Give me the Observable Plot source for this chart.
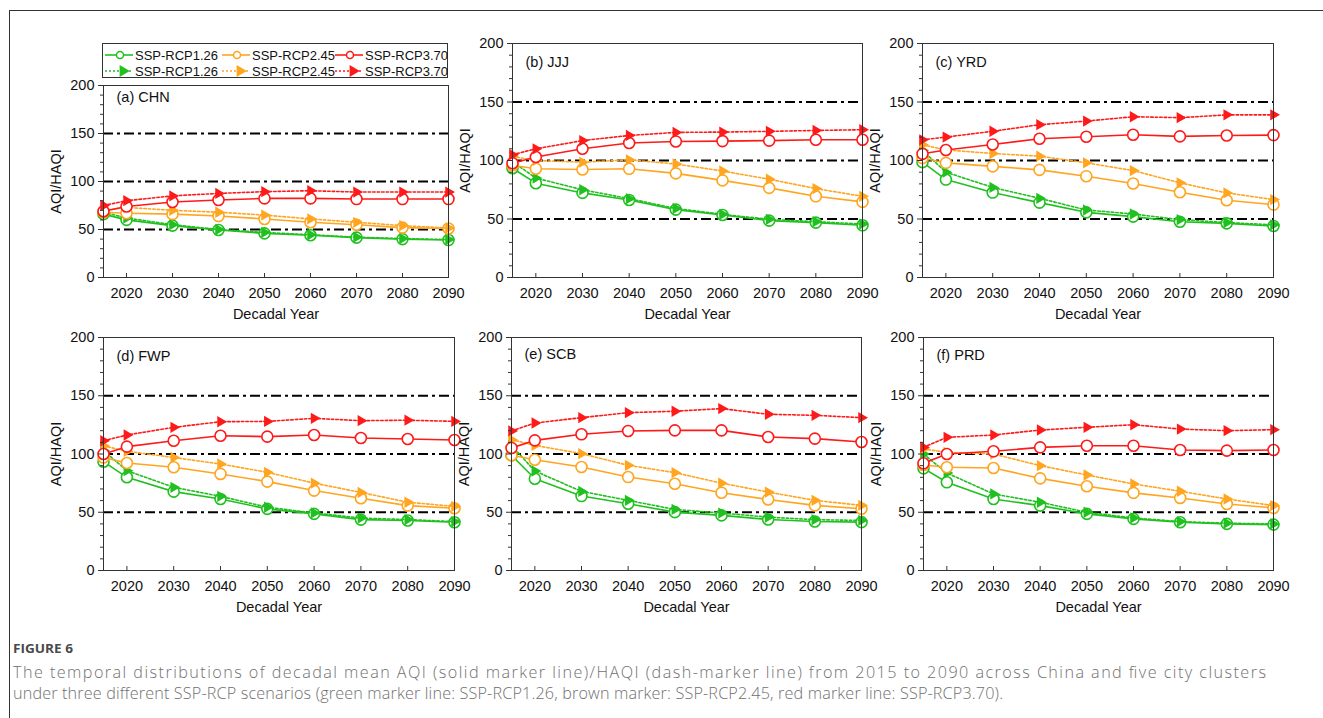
<!DOCTYPE html>
<html><head><meta charset="utf-8">
<script src="https://cdn.jsdelivr.net/npm/d3@7"></script>
<script src="https://cdn.jsdelivr.net/npm/@observablehq/plot@0.6"></script>
<style>
html,body{margin:0;padding:0;background:#fff;}
body{width:1323px;height:718px;overflow:hidden;position:relative;font-family:"Liberation Sans",Arial,sans-serif;}
.pbox{position:absolute;}
.pbox svg{overflow:visible;max-width:none;}
#border{position:absolute;left:9px;top:10px;width:1330px;height:720px;border-left:1px solid #333;border-top:1px solid #333;}
#legend,#caption{position:absolute;left:0;top:0;}
</style></head><body>
<div id="border"></div>
<div id="charts"></div>
<svg id="legend" width="1323" height="100"></svg>
<svg id="caption" width="1323" height="718" style="pointer-events:none"></svg>
<script>
const years = [2015, 2020, 2030, 2040, 2050, 2060, 2070, 2080, 2090];
const xTicks = [2020, 2030, 2040, 2050, 2060, 2070, 2080, 2090];
const yMajor = [0, 50, 100, 150, 200];
const yMinor = [10, 20, 30, 40, 60, 70, 80, 90, 110, 120, 130, 140, 160, 170, 180, 190];
const refLevels = [50, 100, 150];
const scenarios = ["SSP-RCP1.26", "SSP-RCP2.45", "SSP-RCP3.70"];
const scenColors = ["#20c020", "#ffa51f", "#ff1a1a"];
const regionLabels = ["(a) CHN", "(b) JJJ", "(c) YRD", "(d) FWP", "(e) SCB", "(f) PRD"];

// CHN
const CHN_AQI_126 = [66, 60, 54, 49.5, 46, 44, 41.5, 40, 39];
const CHN_HAQI_126 = [68, 62, 55, 50, 47, 44.5, 42, 40.5, 39.5];
const CHN_AQI_245 = [68, 67, 66, 64, 61, 57.5, 55, 52, 51];
const CHN_HAQI_245 = [70, 73, 70, 68, 65, 61, 57.5, 54, 51.5];
const CHN_AQI_370 = [69, 74, 78.6, 80.7, 82.4, 82.4, 81.7, 81.7, 81.7];
const CHN_HAQI_370 = [75, 80, 85, 87.6, 89.4, 90.4, 89, 89, 89];
// JJJ
const JJJ_AQI_126 = [93.4, 80.6, 72.3, 66.3, 58, 53.4, 48.6, 46.9, 44.6];
const JJJ_HAQI_126 = [99, 85, 75, 67.4, 59, 54, 49.7, 47.7, 45.7];
const JJJ_AQI_245 = [96, 93, 92.3, 92.9, 89, 83, 76.6, 69.4, 64.6];
const JJJ_HAQI_245 = [103.4, 100, 98.6, 100.6, 97, 91, 84, 76, 69.4];
const JJJ_AQI_370 = [97.7, 103, 110, 115, 116.3, 116.6, 117, 117.7, 117.7];
const JJJ_HAQI_370 = [105, 110, 117, 121.4, 124, 124.3, 124.9, 125.7, 126.3];
// YRD
const YRD_AQI_126 = [98.6, 83.7, 72.6, 64, 55.7, 52, 47.7, 46.3, 44];
const YRD_HAQI_126 = [108.6, 90, 77, 67.7, 57.7, 54.3, 49.4, 47, 45];
const YRD_AQI_245 = [102, 98, 95, 92, 86.6, 80.3, 72.9, 66, 62.3];
const YRD_HAQI_245 = [113.4, 109, 106, 103.7, 98, 91.4, 80.9, 72.3, 66.6];
const YRD_AQI_370 = [105.7, 109, 113.7, 118.6, 120.3, 122, 120.6, 121.4, 121.7];
const YRD_HAQI_370 = [117.7, 120, 125, 130.6, 133.7, 137.4, 136.6, 139, 139];
// FWP
const FWP_AQI_126 = [93.4, 80, 67.7, 61.4, 52.9, 48.6, 43.7, 42.9, 41.4];
const FWP_HAQI_126 = [102.9, 85.7, 71.4, 63.7, 54.3, 49.4, 45, 43.7, 42];
const FWP_AQI_245 = [97, 92.3, 88.6, 82.9, 76.3, 68.6, 62, 55.7, 53.4];
const FWP_HAQI_245 = [107, 102.3, 97, 91.4, 84.3, 75, 67, 58.6, 55];
const FWP_AQI_370 = [100, 106.3, 111.4, 115.7, 114.9, 116.3, 113.7, 112.9, 112];
const FWP_HAQI_370 = [111.4, 116.3, 122.9, 127.7, 128, 130.6, 128.6, 129, 128];
// SCB
const SCB_AQI_126 = [98.9, 78.8, 63.9, 57.3, 50.1, 47.3, 43.8, 42.1, 41.5];
const SCB_HAQI_126 = [107.4, 85.4, 67.9, 60.2, 52.4, 49.3, 45.8, 43.6, 43];
const SCB_AQI_245 = [98.9, 95.1, 88.8, 80.2, 74.5, 66.8, 61, 55.9, 53];
const SCB_HAQI_245 = [112.3, 107.4, 100.3, 90.3, 84, 75, 67.3, 60.2, 55.9];
const SCB_AQI_370 = [105.2, 111.7, 116.9, 119.8, 120.3, 120.3, 114.6, 113.2, 110.3];
const SCB_HAQI_370 = [119.8, 126.6, 131.2, 135.5, 136.7, 139, 134.1, 133.2, 131.2];
// PRD
const PRD_AQI_126 = [87.7, 75.7, 61.4, 55.7, 48.6, 44.3, 41.4, 40, 39.4];
const PRD_HAQI_126 = [100, 83.7, 65.7, 58.6, 50, 45.1, 42, 40.6, 40];
const PRD_AQI_245 = [90.6, 88.6, 88, 79.1, 72.3, 66.6, 62.3, 57.1, 53.7];
const PRD_HAQI_245 = [104.3, 101.4, 100, 90, 82, 74.3, 68, 61.4, 55.7];
const PRD_AQI_370 = [92, 100, 102.3, 105.7, 107.1, 107.1, 103.4, 102.9, 103.4];
const PRD_HAQI_370 = [105.7, 114.3, 116.3, 120.6, 122.9, 125.1, 121.4, 120, 120.9];

const regionSeries = [
  [[CHN_AQI_126, CHN_HAQI_126], [CHN_AQI_245, CHN_HAQI_245], [CHN_AQI_370, CHN_HAQI_370]],
  [[JJJ_AQI_126, JJJ_HAQI_126], [JJJ_AQI_245, JJJ_HAQI_245], [JJJ_AQI_370, JJJ_HAQI_370]],
  [[YRD_AQI_126, YRD_HAQI_126], [YRD_AQI_245, YRD_HAQI_245], [YRD_AQI_370, YRD_HAQI_370]],
  [[FWP_AQI_126, FWP_HAQI_126], [FWP_AQI_245, FWP_HAQI_245], [FWP_AQI_370, FWP_HAQI_370]],
  [[SCB_AQI_126, SCB_HAQI_126], [SCB_AQI_245, SCB_HAQI_245], [SCB_AQI_370, SCB_HAQI_370]],
  [[PRD_AQI_126, PRD_HAQI_126], [PRD_AQI_245, PRD_HAQI_245], [PRD_AQI_370, PRD_HAQI_370]]
];

// layout: frame edges in page pixels
const layout = [
  {L: 103, R: 448, T: 85, B: 277, ldy: 12},
  {L: 512, R: 862, T: 43, B: 277, ldy: 19},
  {L: 922, R: 1273, T: 43, B: 277, ldy: 19},
  {L: 103, R: 454, T: 337, B: 570, ldy: 19},
  {L: 511, R: 861, T: 337, B: 570, ldy: 17},
  {L: 923, R: 1273, T: 337, B: 570, ldy: 18}
];

const FONT = "'Liberation Sans', Arial, Helvetica, sans-serif";
const charts = document.getElementById("charts");

regionLabels.forEach((label, i) => {
  const {L, R, T, B, ldy} = layout[i];
  const ml = 70, mr = 14, mt = 8, mb = 50;
  const fw = R - L, fh = B - T;
  const marks = [
    Plot.ruleY(refLevels, {stroke: "#000", strokeWidth: 2, strokeDasharray: "10,4,3,4"})
  ];
  scenarios.forEach((s, k) => {
    const [aqi, haqi] = regionSeries[i][k];
    const col = scenColors[k];
    const rowsA = years.map((y, j) => ({year: y, v: aqi[j]}));
    const rowsH = years.map((y, j) => ({year: y, v: haqi[j]}));
    marks.push(
      Plot.line(rowsA, {x: "year", y: "v", stroke: col, strokeWidth: 1.6}),
      Plot.dot(rowsA, {x: "year", y: "v", r: 5.5, stroke: col, fill: "#fff", strokeWidth: 1.6}),
      Plot.line(rowsH, {x: "year", y: "v", stroke: col, strokeWidth: 1.6, strokeDasharray: "2.5,2"}),
      Plot.dot(rowsH, {x: "year", y: "v", r: 4.2, symbol: "triangle", rotate: 90, fill: col, stroke: "none"})
    );
  });
  marks.push(
    Plot.frame({stroke: "#333", strokeWidth: 1}),
    Plot.axisY({ticks: yMajor, tickSize: 5, tickPadding: 4, label: null, fontSize: 14.5, stroke: "#333"}),
    Plot.axisY({ticks: yMinor, tickSize: 3, tickFormat: () => "", label: null, stroke: "#333"}),
    Plot.axisX({ticks: xTicks, tickSize: 0, tickPadding: 10, tickFormat: d => String(d), label: null, fontSize: 14.5}),
    Plot.ruleX(xTicks, {insetTop: fh - 4, stroke: "#333"}),
    Plot.text(["AQI/HAQI"], {frameAnchor: "left", rotate: -90, dx: -47, textAnchor: "middle", lineAnchor: "middle", fontSize: 14.5, fill: "#111"}),
    Plot.text(["Decadal Year"], {frameAnchor: "bottom", dy: 37, textAnchor: "middle", lineAnchor: "middle", fontSize: 14.5, fill: "#111"}),
    Plot.text([label], {frameAnchor: "top-left", dx: 13, dy: ldy, textAnchor: "start", lineAnchor: "middle", fontSize: 14.5, fill: "#111"})
  );
  const p = Plot.plot({
    width: fw + ml + mr, height: fh + mt + mb,
    marginLeft: ml, marginRight: mr, marginTop: mt, marginBottom: mb,
    style: {fontFamily: FONT, fontSize: "14px", color: "#111", background: "transparent", overflow: "visible"},
    x: {domain: [2015, 2090]},
    y: {domain: [0, 200]},
    marks
  });
  const div = document.createElement("div");
  div.className = "pbox";
  div.style.left = (L - ml) + "px";
  div.style.top = (T - mt) + "px";
  div.appendChild(p);
  charts.appendChild(div);
});

// legend
const lg = d3.select("#legend");
lg.append("rect").attr("x", 102.5).attr("y", 43.5).attr("width", 345).attr("height", 34)
  .attr("fill", "#fff").attr("stroke", "#333").attr("stroke-width", 1);
const colX = [105, 222, 335];
scenarios.forEach((s, k) => {
  const x0 = colX[k], col = scenColors[k];
  lg.append("line").attr("x1", x0).attr("x2", x0 + 28).attr("y1", 55).attr("y2", 55)
    .attr("stroke", col).attr("stroke-width", 1.6);
  lg.append("circle").attr("cx", x0 + 15).attr("cy", 55).attr("r", 3.5)
    .attr("fill", "#fff").attr("stroke", col).attr("stroke-width", 1.5);
  lg.append("text").attr("x", x0 + 30).attr("y", 55).attr("dy", "0.35em")
    .attr("font-family", FONT).attr("font-size", 13.5).attr("fill", "#111")
    .attr("textLength", 83).attr("lengthAdjust", "spacingAndGlyphs").text(s);
  lg.append("line").attr("x1", x0).attr("x2", x0 + 28).attr("y1", 71).attr("y2", 71)
    .attr("stroke", col).attr("stroke-width", 1.6).attr("stroke-dasharray", "2,2");
  lg.append("path").attr("d", d3.symbol(d3.symbolTriangle, 60)())
    .attr("transform", `translate(${x0 + 18},71) rotate(90)`).attr("fill", col);
  lg.append("text").attr("x", x0 + 30).attr("y", 71).attr("dy", "0.35em")
    .attr("font-family", FONT).attr("font-size", 13.5).attr("fill", "#111")
    .attr("textLength", 83).attr("lengthAdjust", "spacingAndGlyphs").text(s);
});

// caption
const cp = d3.select("#caption");
cp.append("text").attr("x", 13).attr("y", 653).attr("font-family", "'Open Sans', sans-serif")
  .attr("font-size", 13).attr("font-weight", 700).attr("fill", "#4a4a4a")
  .attr("textLength", 60).attr("lengthAdjust", "spacingAndGlyphs").text("FIGURE 6");
const capLines = [
  "The temporal distributions of decadal mean AQI (solid marker line)/HAQI (dash-marker line) from 2015 to 2090 across China and five city clusters",
  "under three different SSP-RCP scenarios (green marker line: SSP-RCP1.26, brown marker: SSP-RCP2.45, red marker line: SSP-RCP3.70)."
];
const capWidths = [1253, 990];
capLines.forEach((t, i) => {
  cp.append("text").attr("x", 13).attr("y", 678 + i * 21)
    .attr("font-family", "'Open Sans', sans-serif").attr("font-size", 16.2).attr("font-weight", 300).attr("fill", "#707070")
    .attr("textLength", capWidths[i]).attr("lengthAdjust", "spacing").text(t);
});
</script>
</body></html>
